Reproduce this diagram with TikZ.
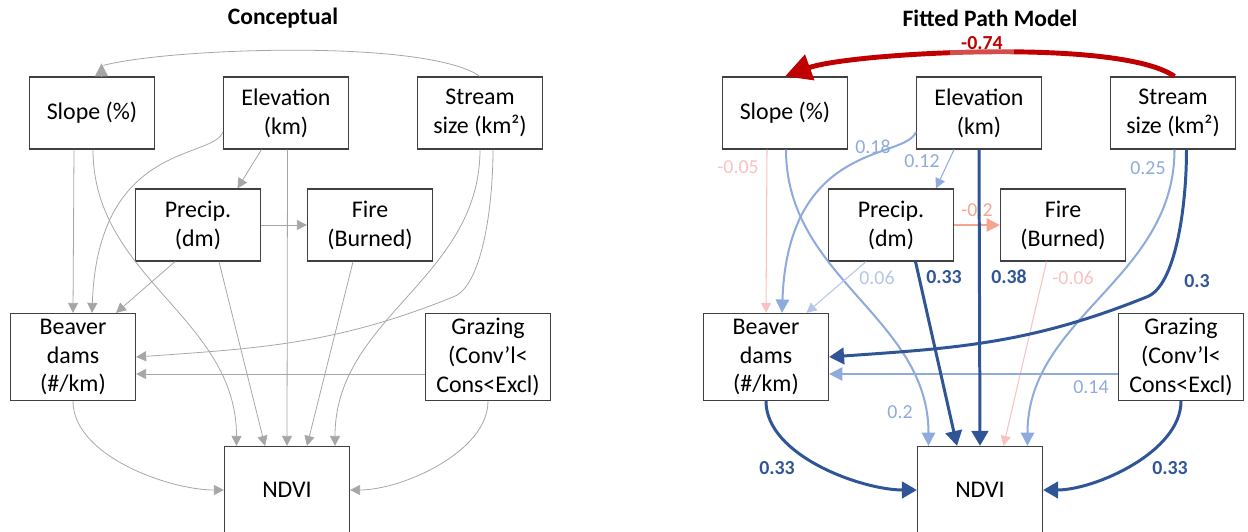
\documentclass[tikz,border=0pt]{standalone}
\usepackage{fontspec}
\setmainfont{Carlito}
\usetikzlibrary{arrows.meta}
\definecolor{frame}{HTML}{404040}
\definecolor{linkgray}{HTML}{A6A6A6}
\definecolor{darkblue}{HTML}{2F5597}
\definecolor{midblue}{HTML}{8FAADC}
\definecolor{paleblue}{HTML}{B4C7E7}
\definecolor{palered}{HTML}{F9C2C2}
\definecolor{salmon}{HTML}{F4A58F}
\definecolor{strongred}{HTML}{C00000}
\newcommand{\boxfont}{\fontsize{13.6}{16.5}\selectfont}
\newcommand{\coeffont}{\fontsize{11.3}{13}\selectfont}
\begin{document}
\begin{tikzpicture}[x=0.02cm,y=0.02cm,
  box/.style={draw=frame,line width=0.7pt,minimum width=2.5cm,minimum height=1.44cm,align=center,inner sep=1pt,font=\boxfont},
  tallbox/.style={box,minimum height=1.74cm},
  paneltitle/.style={font=\fontsize{13.4}{16}\selectfont\bfseries},
  concept/.style={draw=linkgray,line width=0.45pt,-{Triangle[length=5.7pt,width=5.7pt]}},
  weaklink/.style={line width=0.6pt,-{Triangle[length=5.7pt,width=5.7pt]}},
  midlink/.style={line width=1.15pt,-{Triangle[length=7.6pt,width=7.6pt]}},
  stronglink/.style={draw=darkblue,line width=1.7pt,-{Triangle[length=8.5pt,width=9.4pt]}},
  redlink/.style={draw=strongred,line width=2.8pt,-{Triangle[length=15pt,width=15pt]}},
  coef/.style={font=\coeffont,inner sep=0pt},
  bcoef/.style={coef,font=\coeffont\bfseries}]
 \useasboundingbox (0,0) rectangle (1248,531);
 \node[paneltitle] (ctitle) at (283,513) {Conceptual};
 \node[paneltitle] (rtitle) at (990,513) {Fitted Path Model};
 % same boxes in both panels
 \foreach \p/\dx in {c/0,r/693}{
  \begin{scope}[xshift=\dx*0.02cm]
   \node[box] (\p slope) at (92,418) {Slope (\%)};
   \node[box] (\p elev) at (286,418) {Elevation\\(km)};
   \node[box] (\p stream) at (480,418) {Stream\\size (km²)};
   \node[box] (\p precip) at (198,306) {Precip.\\(dm)};
   \node[box] (\p fire) at (370,306) {Fire\\(Burned)};
   \node[tallbox] (\p beaver) at (73,174) {Beaver\\dams\\(\#/km)};
   \node[tallbox] (\p graz) at (488,174) {Grazing\\(Conv’l<\\Cons<Excl)};
   \node[tallbox] (\p ndvi) at (287,41) {NDVI};
  \end{scope}
 }
 %
 % conceptual model
 \draw[concept,-] (cstream.north) to[out=145,in=15,looseness=0.45] ([xshift=2.3mm,yshift=2.2mm]cslope.north);
 \draw[concept,-{Triangle[length=7.4pt,width=7.4pt]}] ([xshift=1.9mm]cslope.north) -- ++(0,13);
 \draw[concept] ([xshift=-3.6mm]cslope.south) -- (cbeaver.north);
 \draw[concept] ([xshift=0.2mm]cslope.south) to[out=-90,in=90] ([xshift=-10.1mm]cndvi.north);
 \draw[concept] ([yshift=-3.8mm]celev.west) to[out=-110,in=88,out looseness=0.34,in looseness=1.97] ([xshift=3.8mm]cbeaver.north);
 \draw[concept] ([xshift=-4.9mm]celev.south) -- ([xshift=7.9mm]cprecip.north);
 \draw[concept] ([xshift=0.3mm]celev.south) -- (cndvi.north);
 \draw[concept] (cprecip.east) -- (cfire.west);
 \draw[concept] ([xshift=-4.6mm]cprecip.south) -- ([xshift=8.6mm]cbeaver.north);
 \draw[concept] ([xshift=4.2mm]cprecip.south) -- ([xshift=-4.4mm]cndvi.north);
 \draw[concept] ([xshift=-3.4mm]cfire.south) -- ([xshift=4mm]cndvi.north);
 \draw[concept] (cstream.south) to[out=-90,in=90] ([xshift=9.6mm]cndvi.north);
 \draw[concept] ([xshift=2.6mm]cstream.south) to[out=-90,in=22,in looseness=0.5] ++(-39,-147) to[out=202,in=4] (cbeaver.east);
 \draw[concept] ([yshift=-3.4mm]cgraz.west) -- ([yshift=-3.4mm]cbeaver.east);
 \draw[concept] (cbeaver.south) to[out=-90,in=180,looseness=0.8] (cndvi.west);
 \draw[concept] (cgraz.south) to[out=-90,in=0,looseness=0.8] (cndvi.east);
 %
 % fitted path model
 \node[coef,text=midblue] (k18) at (873,384) {0.18};
 \node[coef,text=palered] (k05) at (738,364) {-0.05};
 \node[coef,text=midblue] (k12) at (922,370) {0.12};
 \node[coef,text=midblue] (k25) at (1148,363) {0.25};
 \node[coef,text=salmon] (k20) at (977,321) {-0.2};
 \node[coef,text=paleblue] (k06) at (877,253) {0.06};
 \node[bcoef,text=darkblue] (k33a) at (944,254) {0.33};
 \node[bcoef,text=darkblue] (k38) at (1009,254) {0.38};
 \node[coef,text=palered] (k06b) at (1073,253) {-0.06};
 \node[bcoef,text=darkblue] (k30) at (1197,250) {0.3};
 \node[coef,text=midblue] (k14) at (1091,144) {0.14};
 \node[coef,text=midblue] (k02) at (900,119) {0.2};
 \node[bcoef,text=darkblue] (k33b) at (777,63) {0.33};
 \node[bcoef,text=darkblue] (k33c) at (1170,63) {0.33};
 %
 \draw[weaklink,draw=palered] ([xshift=-3.6mm]rslope.south) -- (rbeaver.north);
 \draw[midlink,draw=midblue] ([xshift=0.2mm]rslope.south) to[out=-90,in=90] ([xshift=-10.3mm]rndvi.north);
 \draw[midlink,draw=midblue] ([yshift=-3.8mm]relev.west) to[out=-110,in=88,out looseness=0.34,in looseness=1.97] ([xshift=3.2mm]rbeaver.north);
 \draw[weaklink,draw=midblue] ([xshift=-5mm]relev.south) -- ([xshift=9mm]rprecip.north);
 \draw[midlink,draw=salmon] (rprecip.east) -- (rfire.west);
 \draw[weaklink,draw=paleblue] ([xshift=-5mm]rprecip.south) -- ([xshift=8.1mm]rbeaver.north);
 \draw[weaklink,draw=palered] ([xshift=-3.3mm]rfire.south) -- ([xshift=4.7mm]rndvi.north);
 \draw[midlink,draw=midblue] ([xshift=0.3mm]rstream.south) to[out=-90,in=90] ([xshift=9.5mm]rndvi.north);
 \draw[midlink,draw=midblue] ([yshift=-3.4mm]rgraz.west) -- ([yshift=-3.4mm]rbeaver.east);
 \draw[stronglink] (relev.south) -- (rndvi.north);
 \draw[stronglink] ([xshift=4.9mm]rprecip.south) -- ([xshift=-4.6mm]rndvi.north);
 \draw[stronglink] ([xshift=2.7mm]rstream.south) to[out=-90,in=22,in looseness=0.5] ++(-39,-147) to[out=202,in=4] (rbeaver.east);
 \draw[stronglink] (rbeaver.south) to[out=-90,in=180,looseness=0.8] (rndvi.west);
 \draw[stronglink] (rgraz.south) to[out=-90,in=0,looseness=0.8] (rndvi.east);
 \draw[redlink] ([xshift=0.3mm]rstream.north) to[out=145,in=20,looseness=0.45] (rslope.north);
 \node[bcoef,text=strongred,fill=white,fill opacity=0.3,text opacity=1,minimum width=1.28cm,minimum height=0.6cm] (k74) at (982,488) {-0.74};
\end{tikzpicture}
\end{document}
